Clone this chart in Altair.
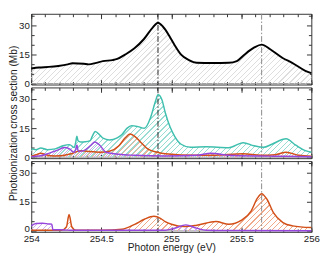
import math
import altair as alt
import pandas as pd

# ---------------- data ----------------
# Panel 1: total cross section (black)
tot_x = [254.000, 254.055, 254.125, 254.193, 254.261, 254.294, 254.375, 254.410, 254.464,
         254.512, 254.580, 254.614, 254.669, 254.737, 254.805, 254.867, 254.905, 254.942,
         254.956, 254.990, 255.024, 255.070, 255.126, 255.181, 255.297, 255.411, 255.468,
         255.522, 255.590, 255.645, 255.706, 255.795, 255.863, 255.957, 256.000]
tot_y = [7.8, 8.3, 8.6, 9.1, 9.9, 10.5, 10.2, 9.9, 10.7,
         11.6, 12.1, 12.7, 14.9, 18.2, 23.0, 28.9, 31.4, 29.2,
         28.0, 24.0, 19.8, 14.9, 12.1, 10.7, 10.6, 10.7, 11.6,
         14.9, 18.5, 20.1, 17.7, 13.2, 10.7, 6.6, 5.4]

# Panel 2: teal
p2_teal_x = [254.000, 254.034, 254.068, 254.114, 254.171, 254.227, 254.273, 254.307, 254.317,
             254.326, 254.334, 254.353, 254.387, 254.421, 254.437, 254.457, 254.489, 254.512,
             254.558, 254.614, 254.648, 254.683, 254.717, 254.762, 254.808, 254.853, 254.887,
             254.905, 254.933, 254.956, 254.990, 255.024, 255.070, 255.138, 255.249, 255.411,
             255.514, 255.590, 255.659, 255.718, 255.820, 255.889, 255.957, 256.000]
p2_teal_y = [4.3, 3.9, 4.8, 3.9, 4.3, 5.9, 6.5, 5.0, 7.5,
             10.8, 8.5, 7.9, 8.0, 8.6, 11.0, 13.3, 11.5, 9.8,
             8.9, 10.0, 11.7, 14.9, 16.3, 15.8, 14.9, 20.7, 28.9,
             32.2, 29.7, 23.2, 15.8, 10.8, 6.7, 5.1, 5.4, 4.9,
             7.5, 5.9, 5.1, 6.7, 9.5, 6.2, 3.4, 2.6]

# Panel 2: orange
p2_orange_x = [254.000, 254.034, 254.068, 254.102, 254.171, 254.285, 254.330, 254.353, 254.398,
               254.489, 254.558, 254.626, 254.671, 254.705, 254.739, 254.785, 254.831, 254.899,
               254.956, 255.181, 255.297, 255.514, 255.638, 255.741, 255.820, 255.911, 256.000]
p2_orange_y = [0.5, 1.3, 2.1, 1.3, 0.6, 1.8, 3.0, 3.4, 3.1,
               2.6, 3.1, 5.9, 10.0, 12.0, 10.8, 7.5, 4.3, 2.6,
               1.8, 1.0, 1.0, 1.8, 1.0, 1.3, 2.6, 1.0, 0.5]

# Panel 2: purple
p2_purple_x = [254.000, 254.057, 254.125, 254.193, 254.239, 254.273, 254.307, 254.317, 254.326,
               254.334, 254.341, 254.375, 254.421, 254.455, 254.489, 254.534, 254.626, 254.739,
               254.956, 255.181, 255.283, 255.411, 255.638, 255.820, 256.000]
p2_purple_y = [0.3, 0.6, 2.0, 3.8, 5.0, 4.3, 2.6, 4.0, 6.3,
               3.5, 3.0, 3.4, 5.9, 7.9, 6.2, 2.6, 1.5, 1.0,
               0.6, 1.0, 2.1, 1.0, 0.6, 0.5, 0.2]

# Panel 3: orange
p3_orange_x = [254.000, 254.216, 254.251, 254.270, 254.290, 254.319, 254.512, 254.648, 254.739,
               254.808, 254.876, 254.922, 254.956, 255.001, 255.092, 255.183, 255.319, 255.411,
               255.502, 255.570, 255.616, 255.645, 255.684, 255.729, 255.797, 255.866, 256.000]
p3_orange_y = [0.3, 0.3, 2.0, 8.4, 2.0, 0.3, 0.3, 0.8, 3.4,
               6.0, 7.5, 6.5, 4.8, 3.4, 2.2, 2.9, 4.8, 3.4,
               5.5, 10.2, 17.0, 19.2, 16.2, 9.4, 4.3, 2.6, 1.7]

# Panel 3: purple
p3_purple_x = [254.000, 254.034, 254.080, 254.125, 254.147, 254.154, 254.239, 254.285, 254.956,
               255.024, 255.104, 255.181, 255.249, 255.411, 256.000]
p3_purple_y = [2.6, 3.8, 3.9, 3.6, 3.5, 0.6, 0.5, 0.3, 0.3,
               1.4, 3.1, 1.4, 0.3, 0.2, 0.1]

vline_x = [254.905, 255.645]
x_major = [254, 254.5, 255, 255.5, 256]
x_minor = [round(254 + 0.1 * i, 1) for i in range(21)]
y_major = [0, 15, 30]
y_minor = [5, 10, 20, 25, 35]

# ---------------- styling ----------------
W = 289
H = 73
YMIN, YMAX = -0.5, 36.0
FONT = "Liberation Sans"
TEAL = "#3fbfae"
ORANGE = "#d24f18"
PURPLE = "#9646dc"

xs = alt.Scale(domain=[254, 256], nice=False, zero=False)
ys = alt.Scale(domain=[YMIN, YMAX], nice=False, zero=False)


def hatch(color, h_px, w_px=W, spacing=4.0, frac=0.2, k=2.0):
    r = max(h_px, 1.0) / w_px
    length = k * w_px * (1 + r * r) / math.sqrt(2)
    n = max(1, int(length / spacing))
    clear = "rgba(255,255,255,0)"
    stops = []
    for i in range(n):
        a = i / n
        b = (i + frac) / n
        c = (i + 1) / n
        stops += [alt.GradientStop(offset=a, color=color),
                  alt.GradientStop(offset=b, color=color),
                  alt.GradientStop(offset=b, color=clear),
                  alt.GradientStop(offset=c, color=clear)]
    return alt.LinearGradient(gradient="linear", stops=stops, x1=0, y1=0, x2=k, y2=k * r)


def series(xv, yv, color, hatch_color, lw):
    df = pd.DataFrame({"x": xv, "y": yv})
    h_px = max(yv) * H / (YMAX - YMIN)
    area = alt.Chart(df).mark_area(
        interpolate="monotone", fill=hatch(hatch_color, h_px), fillOpacity=1
    ).encode(
        x=alt.X("x:Q", scale=xs, axis=None),
        y=alt.Y("y:Q", scale=ys, axis=None),
        y2=alt.datum(0),
    )
    line = alt.Chart(df).mark_line(
        interpolate="monotone", color=color, strokeWidth=lw
    ).encode(
        x=alt.X("x:Q", scale=xs, axis=None),
        y=alt.Y("y:Q", scale=ys, axis=None),
    )
    return area, line


axis_df = pd.DataFrame({"x": [255.0], "y": [10.0]})
AX = dict(domain=False, grid=False, tickColor="#333", tickWidth=1,
          labelFont=FONT, labelFontSize=10, labelColor="#222",
          titleFont=FONT, titleFontSize=10.5, titleFontWeight="normal", titleColor="#222")


def axis_layer(xa, ya):
    return alt.Chart(axis_df).mark_point(opacity=0).encode(
        x=alt.X("x:Q", scale=xs, axis=xa),
        y=alt.Y("y:Q", scale=ys, axis=ya),
    )


def axes(show_xlabels, ytitle):
    # in the bottom panel the "0" label is nudged up so it clears the "254" label
    left_vals = y_major[1:] if show_xlabels else y_major
    l1 = axis_layer(
        alt.Axis(orient="bottom", values=x_major, tickSize=5, offset=-5, labels=show_xlabels,
                 format="~g", labelPadding=1.5, labelOverlap=False, labelFlush=False,
                 title="Photon energy (eV)" if show_xlabels else None, titlePadding=0, **AX),
        alt.Axis(orient="left", values=left_vals, tickSize=5, offset=-5, labelPadding=2,
                 labelOverlap=False, title=ytitle, titlePadding=0, **AX),
    )
    l2 = axis_layer(
        alt.Axis(orient="bottom", values=x_minor, tickSize=3, offset=-3, labels=False, title=None, **AX),
        alt.Axis(orient="left", values=y_minor, tickSize=3, offset=-3, labels=False, title=None, **AX),
    )
    l3 = axis_layer(
        alt.Axis(orient="top", values=x_major, tickSize=5, offset=-5, labels=False, title=None, **AX),
        alt.Axis(orient="right", values=y_major, tickSize=5, offset=-5, labels=False, title=None, **AX),
    )
    l4 = axis_layer(
        alt.Axis(orient="top", values=x_minor, tickSize=3, offset=-3, labels=False, title=None, **AX),
        alt.Axis(orient="right", values=y_minor, tickSize=3, offset=-3, labels=False, title=None, **AX),
    )
    out = [l1, l2, l3, l4]
    if show_xlabels:
        out.append(axis_layer(
            None,
            alt.Axis(orient="left", values=y_major[:1], tickSize=5, offset=-5, labelPadding=2,
                     labelOffset=-2, labelOverlap=False, title=None, **AX),
        ))
    return out


def guides():
    zero = alt.Chart(pd.DataFrame({"y": [0]})).mark_rule(color="#999", strokeWidth=1).encode(
        y=alt.Y("y:Q", scale=ys, axis=None))
    v1 = alt.Chart(pd.DataFrame({"x": [vline_x[0]]})).mark_rule(
        color="#222", strokeWidth=1, strokeDash=[6, 2, 1.5, 2]).encode(
        x=alt.X("x:Q", scale=xs, axis=None))
    v2 = alt.Chart(pd.DataFrame({"x": [vline_x[1]]})).mark_rule(
        color="#888", strokeWidth=1, strokeDash=[6, 2, 1.5, 2]).encode(
        x=alt.X("x:Q", scale=xs, axis=None))
    return zero, v1, v2


def panel(series_list, show_xlabels=False, ytitle=None):
    zero, v1, v2 = guides()
    areas, lines = [], []
    for s in series_list:
        a, l = series(*s)
        areas.append(a)
        lines.append(l)
    layers = [zero] + areas + [v1, v2] + lines + axes(show_xlabels, ytitle)
    return alt.layer(*layers).resolve_axis(x="independent", y="independent").properties(
        width=W, height=H)


p1 = panel([(tot_x, tot_y, "#000000", "#dedede", 2)])
p2 = panel([
    (p2_teal_x, p2_teal_y, TEAL, "#9addd4", 1.5),
    (p2_orange_x, p2_orange_y, ORANGE, "#f1b093", 1.5),
    (p2_purple_x, p2_purple_y, PURPLE, "#cfaeee", 1.5),
], ytitle="Photoionization cross section (Mb)")
p3 = panel([
    (p3_orange_x, p3_orange_y, ORANGE, "#f0aa8a", 1.5),
    (p3_purple_x, p3_purple_y, PURPLE, "#cfaeee", 1.5),
], show_xlabels=True)

chart = alt.vconcat(p1, p2, p3, spacing=3, bounds="flush").properties(
    padding={"left": 0, "top": 1, "right": 2, "bottom": 0},
    background="white",
).configure_view(stroke="#333", strokeWidth=1)

chart.save("out.html", embed_options={"renderer": "svg", "actions": False})
